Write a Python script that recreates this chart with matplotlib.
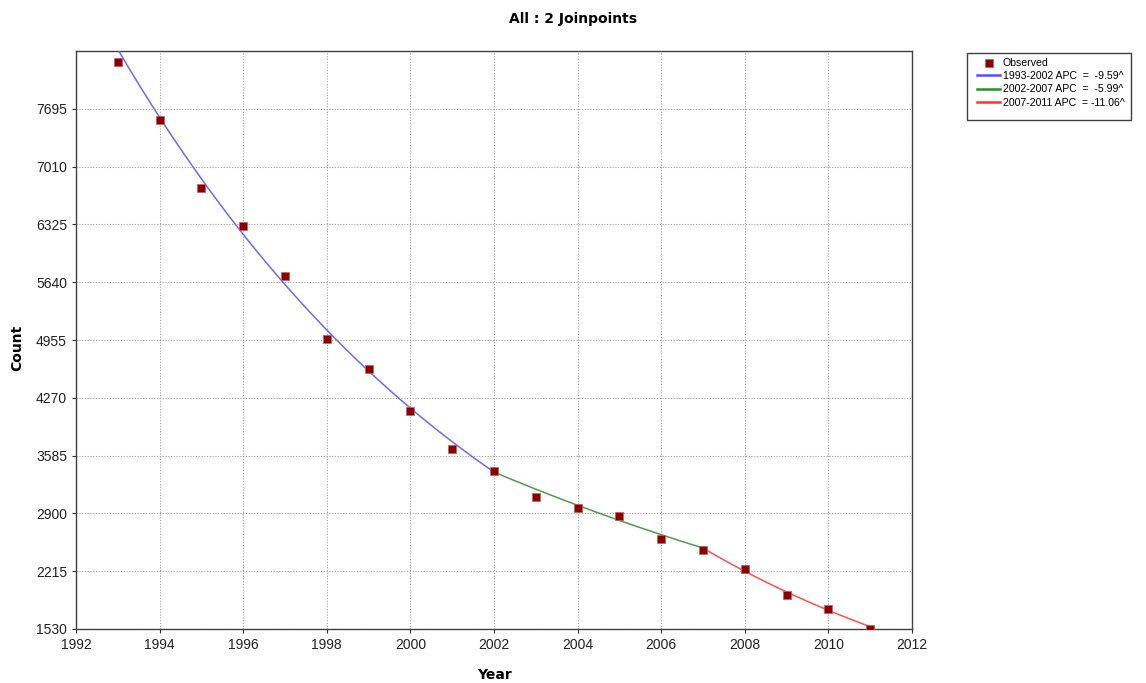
import numpy as np
import matplotlib
matplotlib.use("Agg")
import matplotlib.pyplot as plt
from matplotlib.patches import Rectangle

# Observed counts by year
years = [1993, 1994, 1995, 1996, 1997, 1998, 1999, 2000, 2001, 2002,
         2003, 2004, 2005, 2006, 2007, 2008, 2009, 2010, 2011]
counts = [8249, 7565, 6752, 6304, 5715, 4972, 4607, 4112, 3664, 3404,
          3098, 2968, 2874, 2591, 2461, 2237, 1931, 1766, 1530]

# Joinpoint segments: (start, end, APC %, label)
segments = [(1993, 2002, -9.59, "1993-2002 APC  =  -9.59^"),
            (2002, 2007, -5.99, "2002-2007 APC  =  -5.99^"),
            (2007, 2011, -11.06, "2007-2011 APC  = -11.06^")]
seg_colors = ["#5050ff", "#2e8b2e", "#ff3030"]
fit_at_2002 = 3390

y_ticks = [1530, 2215, 2900, 3585, 4270, 4955, 5640, 6325, 7010, 7695]
x_ticks = list(range(1992, 2013, 2))

W, H = 1146, 683
fig = plt.figure(figsize=(W / 100, H / 100), dpi=100)
ax = fig.add_axes([76 / W, 1 - 629 / H, (912 - 76) / W, (629 - 51) / H])

# Log-linear fitted curve, anchored at the 2002 joinpoint
def fitted(t):
    t = np.asarray(t, dtype=float)
    out = np.empty_like(t)
    r1, r2, r3 = [1 + s[2] / 100 for s in segments]
    v2007 = fit_at_2002 * r2 ** 5
    m1 = t <= 2002
    m2 = (t > 2002) & (t <= 2007)
    m3 = t > 2007
    out[m1] = fit_at_2002 * r1 ** (t[m1] - 2002)
    out[m2] = fit_at_2002 * r2 ** (t[m2] - 2002)
    out[m3] = v2007 * r3 ** (t[m3] - 2007)
    return out

handles = []
obs = ax.scatter(years, counts, marker="s", s=28, color="#8b0000",
                 edgecolors="#c06060", linewidths=0.5, zorder=4, label="Observed")
handles.append(obs)
for (a, b, apc, lab), c in zip(segments, seg_colors):
    tt = np.linspace(a, b, 200)
    ln, = ax.plot(tt, fitted(tt), color=c, lw=1.1, alpha=0.85, zorder=3, label=lab)
    handles.append(ln)

ax.set_xlim(1992, 2012)
ax.set_ylim(1530, 8380)
ax.set_xticks(x_ticks)
ax.set_yticks(y_ticks)
ax.grid(True, color="#a0a0a0", linestyle=(0, (1, 1.5)), linewidth=0.8)
ax.tick_params(axis="both", labelsize=10, colors="#333333", length=3,
               labelcolor="#222222")
for lab in ax.get_xticklabels() + ax.get_yticklabels():
    lab.set_family("Liberation Sans")
for sp in ax.spines.values():
    sp.set_color("#404040")
    sp.set_linewidth(1.0)

fig.text(494 / W, 1 - 675 / H, "Year", ha="center", va="center",
         fontsize=10, fontweight="bold")
fig.text(17 / W, 1 - 348 / H, "Count", ha="center", va="center",
         fontsize=10, fontweight="bold", rotation=90)
fig.text(573 / W, 1 - 19 / H, "All : 2 Joinpoints", ha="center", va="center",
         fontsize=10, fontweight="bold")

# Legend box with its own frame
fig.patches.append(Rectangle((967 / W, 1 - 120 / H), (1131 - 967) / W, (120 - 53) / H,
                             transform=fig.transFigure, fill=False,
                             edgecolor="#404040", linewidth=1.0))
leg = fig.legend(handles=handles, loc="upper left",
                 bbox_to_anchor=(977 / W, 1 - 57.5 / H),
                 prop={"family": "Liberation Sans", "size": 7.6},
                 frameon=False, borderpad=0.0,
                 labelspacing=0.32, handlelength=2.2, handletextpad=0.25,
                 borderaxespad=0)
for h in leg.legend_handles[1:]:
    h.set_alpha(1.0)
    h.set_linewidth(1.8)

fig.savefig("out.png", dpi=100)
